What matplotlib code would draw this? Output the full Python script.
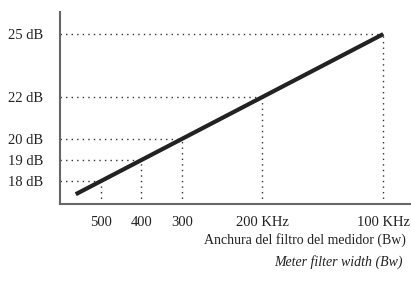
import matplotlib
matplotlib.use("Agg")
import matplotlib.pyplot as plt

# Data
bandwidth_labels = ["500", "400", "300", "200 KHz", "100 KHz"]
db_values = [18, 19, 20, 22, 25]
ytick_labels = ["18 dB", "19 dB", "20 dB", "22 dB", "25 dB"]
line_db = [17.37, 25]

fig = plt.figure(figsize=(4.11, 2.88), dpi=100)
ax = fig.add_axes([0.146, 0.2917, 0.852, 0.6663])

font = "Liberation Serif"
dot_style = (0, (1, 3))
for v in db_values:
    ax.plot([16.98, v], [v, v], color="#333333", lw=1, ls=dot_style, zorder=1)
    ax.plot([v, v], [16.9, v], color="#333333", lw=1, ls=dot_style, zorder=1)

ax.plot(line_db, line_db, color="#222222", lw=3, solid_capstyle="butt", zorder=3)

ax.set_xlim(16.98, 25.67)
ax.set_ylim(16.905, 26.05)

ax.set_yticks(db_values)
ax.set_yticklabels(ytick_labels, family=font, fontsize=10.5, color="#222222")
ax.set_xticks(db_values)
ax.set_xticklabels(bandwidth_labels, family=font, fontsize=10.5, color="#222222")
ax.tick_params(axis="y", length=0, pad=12)
ax.tick_params(axis="x", length=0, pad=9)

for s in ["top", "right"]:
    ax.spines[s].set_visible(False)
for s in ["left", "bottom"]:
    ax.spines[s].set_color("#666666")
    ax.spines[s].set_linewidth(1.5)

fig.text(406/411, 1 - 240/288, "Anchura del filtro del medidor (Bw)", ha="right", va="center",
         family=font, fontsize=10, color="#222222")
fig.text(403/411, 1 - 262/288, "Meter filter width (Bw)", ha="right", va="center",
         family=font, fontsize=10, style="italic", color="#222222")

fig.savefig("out.png", dpi=100)
